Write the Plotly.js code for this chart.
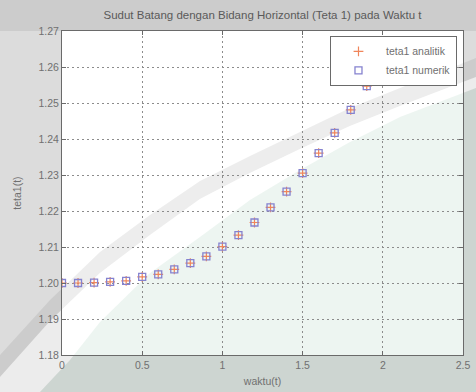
<!DOCTYPE html>
<html>
<head>
<meta charset="utf-8">
<script src="https://cdn.plot.ly/plotly-3.0.1.min.js"></script>
<style>html,body{margin:0;padding:0;background:#dcdcdc;}#chart{width:476px;height:392px;}</style>
</head>
<body>
<div id="chart"></div>
<script>
var waktu = [0, 0.1, 0.2, 0.3, 0.4, 0.5, 0.6, 0.7, 0.8, 0.9, 1.0, 1.1, 1.2, 1.3, 1.4, 1.5, 1.6, 1.7, 1.8, 1.9];
var teta1Analitik = [1.2000, 1.2000, 1.2001, 1.2003, 1.2006, 1.2017, 1.2024, 1.2038, 1.2055, 1.2074, 1.2101, 1.2133, 1.2168, 1.2210, 1.2254, 1.2305, 1.2361, 1.2417, 1.2481, 1.2547];
var teta1Numerik = [1.2000, 1.2000, 1.2001, 1.2003, 1.2006, 1.2017, 1.2024, 1.2038, 1.2055, 1.2074, 1.2101, 1.2133, 1.2168, 1.2210, 1.2254, 1.2305, 1.2361, 1.2417, 1.2481, 1.2547];
var xTicks = [0, 0.5, 1, 1.5, 2, 2.5];
var xTickText = ['0', '0.5', '1', '1.5', '2', '2.5'];
var yTicks = [1.18, 1.19, 1.20, 1.21, 1.22, 1.23, 1.24, 1.25, 1.26, 1.27];
var yTickText = ['1.18', '1.19', '1.20', '1.21', '1.22', '1.23', '1.24', '1.25', '1.26', '1.27'];

// page geometry (pixels) used only to place the faint background watermark bands
var W = 476, H = 392, ML = 62, MR = 13, MT = 31, MB = 37;
function px(x, y) {
  var fx = (x - ML) / (W - ML - MR);
  var fy = (H - MB - y) / (H - MT - MB);
  return fx.toFixed(4) + ',' + fy.toFixed(4);
}
function pathFrom(pts) {
  return 'M' + pts.map(function (p) { return px(p[0], p[1]); }).join(' L') + ' Z';
}
var grayUpper = [[0,355],[50,300],[100,252],[150,215],[200,181],[250,156],[300,132],[350,108],[400,88],[476,58]];
var grayLower = [[0,377],[50,321],[100,273],[150,235],[200,199],[250,173],[300,149],[350,126],[400,106],[476,77]];
var greenEdge = [[40,392],[70,360],[100,322],[150,273],[200,237],[250,200],[300,170],[350,142],[400,117],[476,88]];

var grayBand = pathFrom(grayUpper.concat(grayLower.slice().reverse()));
var whiteBand = pathFrom(grayLower.concat([[476,392],[0,392]]).concat([]).slice(0, grayLower.length).concat(greenEdge.slice().reverse()).concat([[0,392]]));
var greenArea = pathFrom(greenEdge.concat([[476,392]]));

var traces = [
  {x: waktu, y: teta1Analitik, mode: 'markers', type: 'scatter', name: 'teta1 analitik',
   marker: {symbol: 'cross-thin-open', size: 7, color: '#f0855a', line: {color: '#f0855a', width: 1.2}}},
  {x: waktu, y: teta1Numerik, mode: 'markers', type: 'scatter', name: 'teta1 numerik',
   marker: {symbol: 'square-open', size: 7, color: '#8582cf', line: {color: '#8582cf', width: 1.3}}}
];

var FONT = 'Liberation Sans, Arial, sans-serif';
var axisCommon = {
  showline: true, linecolor: '#6a6a6a', linewidth: 1, mirror: 'ticks',
  ticks: 'inside', ticklen: 4, tickcolor: '#6a6a6a',
  showgrid: true, gridcolor: '#8c8c8c', griddash: '2px,3px', gridwidth: 1,
  zeroline: false, tickfont: {family: FONT, size: 10.5, color: '#707070'}
};

var layout = {
  width: W, height: H,
  margin: {l: ML, r: MR, t: MT, b: MB},
  paper_bgcolor: '#dcdcdc', plot_bgcolor: '#ffffff',
  title: {text: 'Sudut Batang dengan Bidang Horizontal (Teta 1) pada Waktu t',
          font: {family: FONT, size: 11.5, color: '#5a5a5a'},
          xref: 'paper', x: 0.5, xanchor: 'center', yref: 'container', y: 0.962, yanchor: 'middle'},
  xaxis: Object.assign({}, axisCommon, {
    range: [0, 2.5], tickvals: xTicks, ticktext: xTickText,
    title: {text: 'waktu(t)', standoff: 8, font: {family: FONT, size: 10.5, color: '#707070'}}
  }),
  yaxis: Object.assign({}, axisCommon, {
    range: [1.18, 1.27], tickvals: yTicks, ticktext: yTickText,
    title: {text: 'teta1(t)', standoff: 14, font: {family: FONT, size: 10.5, color: '#707070'}}
  }),
  showlegend: true,
  legend: {x: 0.985, xanchor: 'right', y: 0.985, yanchor: 'top',
           bgcolor: '#ffffff', bordercolor: '#6a6a6a', borderwidth: 1,
           font: {family: FONT, size: 10.5, color: '#707070'},
           itemwidth: 45, tracegroupgap: 0},
  shapes: [
    {type: 'rect', xref: 'paper', yref: 'paper', x0: -0.2, x1: 1.1, y0: 1.0, y1: 1.12,
     fillcolor: '#000000', opacity: 0.07, line: {width: 0}, layer: 'below'},
    {type: 'path', xref: 'paper', yref: 'paper', path: grayBand,
     fillcolor: '#000000', opacity: 0.07, line: {width: 0}, layer: 'below'},
    {type: 'path', xref: 'paper', yref: 'paper', path: whiteBand,
     fillcolor: '#ffffff', opacity: 0.45, line: {width: 0}, layer: 'below'},
    {type: 'path', xref: 'paper', yref: 'paper', path: greenArea,
     fillcolor: '#4f9c78', opacity: 0.1, line: {width: 0}, layer: 'below'}
  ]
};

Plotly.newPlot('chart', traces, layout, {displayModeBar: false, staticPlot: true});
</script>
</body>
</html>
